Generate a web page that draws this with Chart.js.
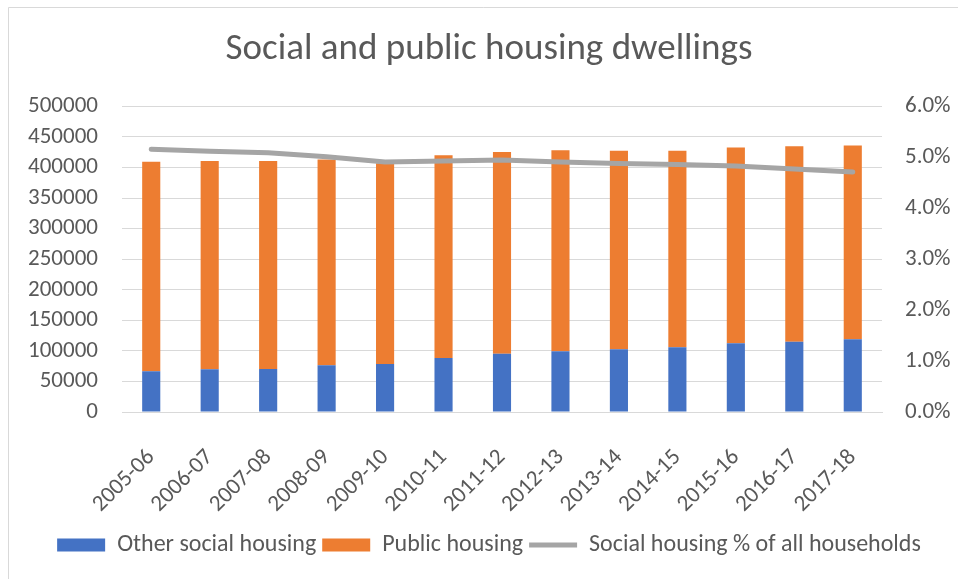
<!DOCTYPE html>
<html>
<head>
<meta charset="utf-8">
<script src="https://cdn.jsdelivr.net/npm/chart.js@4"></script>
<style>
  html, body { margin: 0; padding: 0; background: #ffffff; }
  #wrap { width: 958px; height: 579px; position: relative; }
</style>
</head>
<body>
<div id="wrap"><canvas id="c" width="958" height="579"></canvas></div>
<script>
const categories = ['2005-06','2006-07','2007-08','2008-09','2009-10','2010-11','2011-12','2012-13','2013-14','2014-15','2015-16','2016-17','2017-18'];
const otherSocial = [66700, 70000, 70500, 76500, 78700, 88500, 95100, 99500, 102800, 106000, 112600, 114800, 119200];
const publicHousing = [342800, 340500, 340000, 336500, 328300, 331500, 330100, 328800, 324600, 321400, 320100, 320000, 316800];
const socialPct = [5.16, 5.12, 5.09, 5.01, 4.91, 4.93, 4.95, 4.91, 4.88, 4.86, 4.83, 4.77, 4.71];
const leftTicks = [0, 50000, 100000, 150000, 200000, 250000, 300000, 350000, 400000, 450000, 500000];
const rightTicks = ['0.0%','1.0%','2.0%','3.0%','4.0%','5.0%','6.0%'];

const FONT = "Carlito, Lato, 'Open Sans', sans-serif";
const TEXT = '#595959';

const borderPlugin = {
  id: 'outerBorder',
  beforeDraw(chart) {
    const ctx = chart.ctx;
    ctx.save();
    ctx.fillStyle = '#ffffff';
    ctx.fillRect(0, 0, chart.width, chart.height);
    ctx.strokeStyle = '#d9d9d9';
    ctx.lineWidth = 1;
    ctx.beginPath();
    ctx.moveTo(8.5, chart.height);
    ctx.lineTo(8.5, 7.5);
    ctx.lineTo(chart.width, 7.5);
    ctx.stroke();
    ctx.restore();
  }
};

new Chart(document.getElementById('c'), {
  data: {
    labels: categories,
    datasets: [
      {
        type: 'line',
        label: 'Social housing % of all households',
        data: socialPct,
        yAxisID: 'y2',
        borderColor: '#a5a5a5',
        backgroundColor: '#a5a5a5',
        borderWidth: 5,
        pointRadius: 0,
        tension: 0,
        order: 0,
        borderCapStyle: 'round'
      },
      {
        type: 'bar',
        label: 'Other social housing',
        data: otherSocial,
        yAxisID: 'y',
        backgroundColor: '#4472c4',
        stack: 's',
        order: 1,
        barPercentage: 0.31,
        categoryPercentage: 1
      },
      {
        type: 'bar',
        label: 'Public housing',
        data: publicHousing,
        yAxisID: 'y',
        backgroundColor: '#ed7d31',
        stack: 's',
        order: 1,
        barPercentage: 0.31,
        categoryPercentage: 1
      }
    ]
  },
  options: {
    responsive: false,
    animation: false,
    layout: { padding: { left: 20, right: 0, top: 0, bottom: 12 } },
    plugins: {
      title: {
        display: true,
        text: 'Social and public housing dwellings',
        color: TEXT,
        font: { family: FONT, size: 37, weight: 'normal' },
        padding: { top: 28, bottom: 34 }
      },
      legend: {
        position: 'bottom',
        labels: {
          color: TEXT,
          font: { family: FONT, size: 24 },
          usePointStyle: true,
          pointStyleWidth: 48,
          boxHeight: 13,
          padding: 6,
          generateLabels(chart) {
            const order = [1, 2, 0];
            return order.map(i => {
              const ds = chart.data.datasets[i];
              const isLine = ds.type === 'line';
              return {
                text: ds.label,
                fillStyle: ds.backgroundColor,
                strokeStyle: isLine ? ds.borderColor : ds.backgroundColor,
                lineWidth: isLine ? 5 : 0,
                pointStyle: isLine ? 'line' : 'rect',
                fontColor: TEXT,
                hidden: false,
                datasetIndex: i
              };
            });
          }
        }
      },
      tooltip: { enabled: false }
    },
    scales: {
      x: {
        stacked: true,
        grid: { display: false },
        border: { display: true, color: '#d9d9d9', width: 1 },
        ticks: {
          color: TEXT,
          font: { family: FONT, size: 23 },
          maxRotation: 45,
          minRotation: 45,
          autoSkip: false,
          padding: 24
        },
        afterFit(scale) { scale.height = 115; }
      },
      y: {
        stacked: true,
        position: 'left',
        min: 0,
        max: 500000,
        afterBuildTicks(scale) { scale.ticks = leftTicks.map(v => ({ value: v })); },
        grid: { color: '#d9d9d9', lineWidth: 1, drawTicks: false },
        border: { display: false },
        ticks: {
          color: TEXT,
          font: { family: FONT, size: 23 },
          padding: 24,
          autoSkip: false,
          callback: v => String(v)
        },
        afterFit(scale) { scale.width = 102; }
      },
      y2: {
        stacked: false,
        position: 'right',
        min: 0,
        max: 6,
        afterBuildTicks(scale) { scale.ticks = rightTicks.map((t, i) => ({ value: i })); },
        grid: { display: false, drawTicks: false },
        border: { display: false },
        ticks: {
          color: TEXT,
          font: { family: FONT, size: 23 },
          padding: 23,
          autoSkip: false,
          callback: (v, i) => rightTicks[i]
        },
        afterFit(scale) { scale.width = 76; }
      }
    }
  },
  plugins: [borderPlugin]
});
</script>
</body>
</html>
